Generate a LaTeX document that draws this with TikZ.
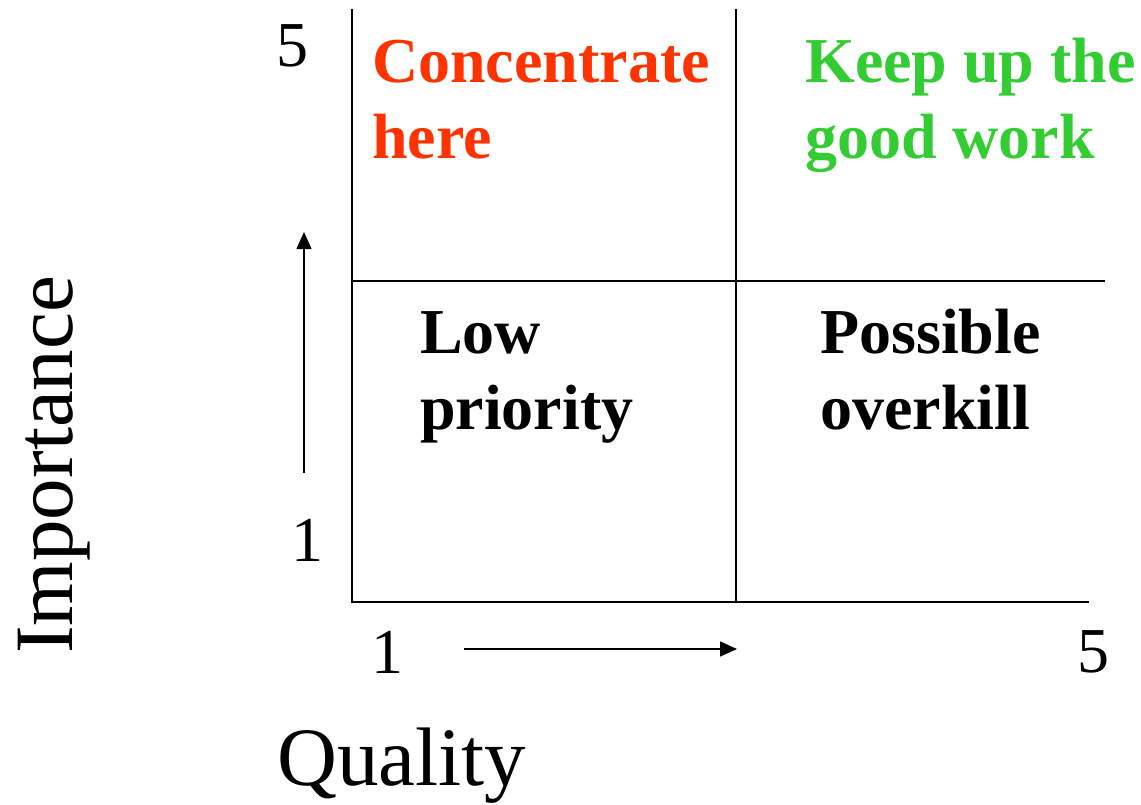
\documentclass[tikz,border=0pt]{standalone}
\usepackage{fontspec}
\setmainfont{Liberation Serif}
\usetikzlibrary{arrows.meta}
\definecolor{hotred}{HTML}{FF3300}
\definecolor{goodgreen}{HTML}{33CC33}
\tikzset{
  gridline/.style={line width=1.6pt, draw=black},
  axisarrow/.style={line width=1.5pt, -{Triangle[length=17pt,width=15pt]}},
  quad/.style={anchor=base west, inner sep=0pt, align=left,
    font=\fontsize{64}{76}\selectfont\bfseries},
  num/.style={anchor=base west, inner sep=0pt, font=\fontsize{64}{76}\selectfont},
  axtitle/.style={anchor=base west, inner sep=0pt, font=\fontsize{83}{90}\selectfont},
}
\begin{document}
\begin{tikzpicture}[x=1pt,y=-1pt]
\useasboundingbox (0,0) rectangle (1141,804);
% grid coordinates
\coordinate (lt) at (352,9);
\coordinate (lb) at (352,602);
\coordinate (mt) at (736,9);
\coordinate (mb) at (736,602);
\coordinate (hl) at (352,281);
\coordinate (hr) at (1105,281);
\coordinate (br) at (1089,602);
\draw[gridline] (lt) -- (lb) -- (br);
\draw[gridline] (mt) -- (mb);
\draw[gridline] (hl) -- (hr);
% axis arrows
\coordinate (va0) at (304,473);
\coordinate (va1) at (304,232);
\coordinate (ha0) at (464,649);
\coordinate (ha1) at (737,649);
\draw[axisarrow] (va0) -- (va1);
\draw[axisarrow] (ha0) -- (ha1);
% numbers
\node[num] (y5) at (276,66) {5};
\node[num] (y1) at (291,561) {1};
\node[num] (x1) at (371,673) {1};
\node[num] (x5) at (1077,672) {5};
% quadrant labels (base anchor lies on the last line)
\node[quad, text=hotred] (conc) at (372,158) {Concentrate\\here};
\node[quad, text=goodgreen] (keep) at (805,158) {Keep up the\\good work};
\node[quad] (low) at (420,429) {Low\\priority};
\node[quad] (poss) at (820,429) {Possible\\overkill};
% axis titles
\node[axtitle, rotate=90] (imp) at (72,654) {Importance};
\node[axtitle] (qual) at (277,785) {Quality};
\end{tikzpicture}
\end{document}
